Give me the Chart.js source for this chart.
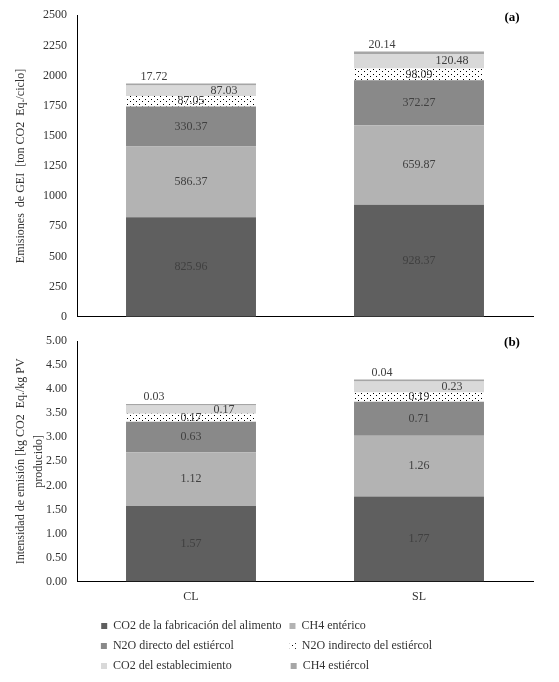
<!DOCTYPE html>
<html>
<head>
<meta charset="utf-8">
<script src="https://cdn.jsdelivr.net/npm/chart.js@4"></script>
<style>
  html, body { margin: 0; padding: 0; background: #fff; overflow: hidden; }
  #wrapA { position: absolute; left: 0; top: -2px; width: 559px; height: 336px; }
  #wrapB { position: absolute; left: 0; top: 322px; width: 559px; height: 360px; }
</style>
</head>
<body>
<div id="wrapA"><canvas id="chartA"></canvas></div>
<div id="wrapB"><canvas id="chartB"></canvas></div>
<script>
const categories = ['CL', 'SL'];
const seriesNames = [
  'CO2 de la fabricación del alimento',
  'CH4 entérico',
  'N2O directo del estiércol',
  'N2O indirecto del estiércol',
  'CO2 del establecimiento',
  'CH4 estiércol'
];

// (a) emisiones de GEI [ton CO2 Eq./ciclo]
const emisCO2Alimento = [825.96, 928.37];
const emisCH4Enterico = [586.37, 659.87];
const emisN2ODirecto = [330.37, 372.27];
const emisN2OIndirecto = [87.05, 98.09];
const emisCO2Establ = [87.03, 120.48];
const emisCH4Estiercol = [17.72, 20.14];

// (b) intensidad de emision [kg CO2 Eq./kg PV producido]
const intCO2Alimento = [1.57, 1.77];
const intCH4Enterico = [1.12, 1.26];
const intN2ODirecto = [0.63, 0.71];
const intN2OIndirecto = [0.17, 0.19];
const intCO2Establ = [0.17, 0.23];
const intCH4Estiercol = [0.03, 0.04];

const axisA = [0, 2500, 250];
const axisB = [0, 5, 0.5];

const FONT = '"Liberation Serif", "Times New Roman", serif';

// white with small black dots, for N2O indirecto
function dotPattern() {
  const c = document.createElement('canvas');
  c.width = 6; c.height = 5;
  const g = c.getContext('2d');
  g.fillStyle = '#fff';
  g.fillRect(0, 0, 6, 5);
  g.fillStyle = '#000';
  g.fillRect(1, 1, 1, 1);
  g.fillRect(4, 3, 1, 1);
  return g.createPattern(c, 'repeat');
}
const dots = dotPattern();
const fills = ['#5f5f5f', '#b3b3b3', '#898989', dots, '#d9d9d9', '#a6a6a6'];
const labelPos = ['center', 'center', 'center', 'center', 'right', 'above'];

function makeDatasets(arrs) {
  return arrs.map((arr, i) => ({
    label: seriesNames[i],
    data: arr,
    backgroundColor: fills[i],
    borderWidth: 0,
    barPercentage: 0.57,
    categoryPercentage: 1
  }));
}

const segLabels = {
  id: 'segLabels',
  afterDatasetsDraw(chart) {
    const ctx = chart.ctx;
    ctx.save();
    ctx.font = '12px ' + FONT;
    ctx.fillStyle = '#404040';
    ctx.textAlign = 'center';
    ctx.textBaseline = 'middle';
    chart.data.datasets.forEach((ds, i) => {
      chart.getDatasetMeta(i).data.forEach((bar, j) => {
        let x = bar.x;
        let y = (bar.y + bar.base) / 2;
        if (labelPos[i] === 'right') x += 33;
        if (labelPos[i] === 'above') { x -= 37; y = bar.y - 7; }
        ctx.fillText(ds.data[j].toFixed(2), x, y);
      });
    });
    // panel tag (a) / (b)
    const tag = chart.options.plugins.panelTag;
    ctx.font = 'bold 13px ' + FONT;
    ctx.fillStyle = '#000';
    ctx.fillText(tag, chart.chartArea.right - 21, chart.chartArea.top + 2);
    ctx.restore();
  }
};

// pad legend texts so both columns line up
function paddedLabels(chart) {
  const items = Chart.defaults.plugins.legend.labels.generateLabels(chart);
  const m = document.createElement('canvas').getContext('2d');
  m.font = '12px ' + FONT;
  const sp = m.measureText(' ').width;
  [0, 1].forEach(col => {
    const group = items.filter((it, k) => k % 2 === col);
    const wMax = Math.max(...group.map(it => m.measureText(it.text).width));
    group.forEach(it => {
      const n = Math.round((wMax - m.measureText(it.text).width) / sp);
      it.text = it.text + ' '.repeat(Math.max(0, n));
    });
  });
  return items;
}

function yScale(range, title, decimals) {
  return {
    stacked: true,
    min: range[0],
    max: range[1],
    grid: { display: false, drawTicks: false },
    border: { display: true, color: '#000', width: 1 },
    ticks: {
      stepSize: range[2],
      padding: 10,
      color: '#333',
      font: { family: FONT, size: 12 },
      callback: v => Number(v).toFixed(decimals)
    },
    title: {
      display: true,
      text: title,
      color: '#333',
      padding: { top: 12, bottom: 12 },
      font: { family: FONT, size: 12, lineHeight: 1.5 }
    },
    afterFit: s => { s.width = 77; }
  };
}

function xScale(showLabels) {
  return {
    stacked: true,
    grid: { display: false, drawTicks: false },
    border: { display: true, color: '#000', width: 1 },
    ticks: {
      display: showLabels,
      padding: 8,
      color: '#333',
      font: { family: FONT, size: 12 }
    },
    afterFit: s => { if (!showLabels) s.height = 0; }
  };
}

new Chart(document.getElementById('chartA').getContext('2d'), {
  type: 'bar',
  data: {
    labels: categories,
    datasets: makeDatasets([emisCO2Alimento, emisCH4Enterico, emisN2ODirecto,
      emisN2OIndirecto, emisCO2Establ, emisCH4Estiercol])
  },
  options: {
    responsive: true,
    maintainAspectRatio: false,
    animation: false,
    layout: { padding: { top: 10, right: 26, bottom: 6, left: 0 } },
    scales: {
      x: xScale(false),
      y: yScale(axisA, 'Emisiones  de GEI  [ton CO2  Eq./ciclo]', 0)
    },
    plugins: {
      panelTag: '(a)',
      legend: { display: false },
      tooltip: { enabled: false }
    }
  },
  plugins: [segLabels]
});

new Chart(document.getElementById('chartB').getContext('2d'), {
  type: 'bar',
  data: {
    labels: categories,
    datasets: makeDatasets([intCO2Alimento, intCH4Enterico, intN2ODirecto,
      intN2OIndirecto, intCO2Establ, intCH4Estiercol])
  },
  options: {
    responsive: true,
    maintainAspectRatio: false,
    animation: false,
    layout: { padding: { top: 19, right: 26, bottom: 0, left: 0 } },
    scales: {
      x: xScale(true),
      y: yScale(axisB, ['Intensidad de emisión [kg CO2  Eq./kg PV', 'producido]'], 2)
    },
    plugins: {
      panelTag: '(b)',
      legend: {
        display: true,
        position: 'bottom',
        labels: {
          boxWidth: 6,
          boxHeight: 6,
          padding: 8,
          color: '#333',
          font: { family: FONT, size: 12 },
          generateLabels: paddedLabels
        }
      },
      tooltip: { enabled: false }
    }
  },
  plugins: [segLabels]
});
</script>
</body>
</html>
